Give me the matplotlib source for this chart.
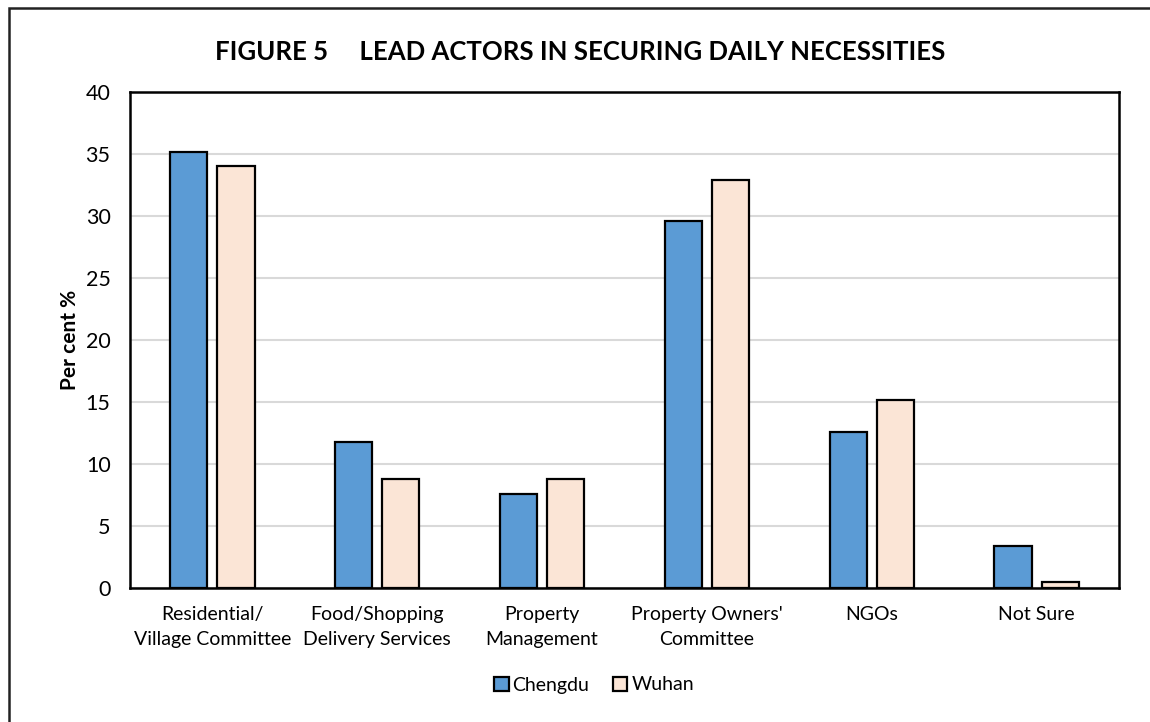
import matplotlib.pyplot as plt
import numpy as np
from matplotlib.patches import Rectangle

# Lead actors in securing daily necessities, per cent of respondents
categories = ['Residential/\nVillage Committee', 'Food/Shopping\nDelivery Services',
              'Property\nManagement', "Property Owners'\nCommittee", 'NGOs', 'Not Sure']
chengdu = [35.2, 11.75, 7.6, 29.6, 12.55, 3.38]
wuhan = [34.0, 8.76, 8.77, 32.87, 15.19, 0.48]

plt.rcParams['font.family'] = ['Lato', 'DejaVu Sans']

fig = plt.figure(figsize=(11.5, 7.22), dpi=100)
ax = fig.add_axes([130 / 1150, 1 - 588 / 722, 989 / 1150, 496 / 722])

x = np.arange(len(categories))
w = 0.225
ax.bar(x - 0.143, chengdu, w, color='#5B9BD5', edgecolor='black', linewidth=1.6,
       label='Chengdu', zorder=3)
ax.bar(x + 0.143, wuhan, w, color='#FBE5D6', edgecolor='black', linewidth=1.6,
       label='Wuhan', zorder=3)

ax.set_xlim(-0.5, len(categories) - 0.5)
ax.set_ylim(0, 40)
ax.set_yticks(range(0, 41, 5))
ax.set_xticks(x)
ax.set_xticklabels(categories, fontsize=14, linespacing=1.55)
ax.tick_params(axis='y', length=0, labelsize=15.5, pad=14)
ax.tick_params(axis='x', length=0, pad=13)
ax.grid(axis='y', color='#D9D9D9', linewidth=1.5, zorder=0)
for s in ax.spines.values():
    s.set_linewidth(1.8)
ax.set_ylabel('Per cent %', fontsize=15, fontweight='bold', labelpad=4)

fig.text(580 / 1150, 1 - 52 / 722, 'FIGURE 5     LEAD ACTORS IN SECURING DAILY NECESSITIES',
         ha='center', va='center', fontsize=18.5, fontweight='bold')

leg = fig.legend(loc='center', bbox_to_anchor=(594 / 1150, 1 - 685 / 722), ncol=2,
                 frameon=False, fontsize=14, handlelength=0.75, handleheight=0.75,
                 handletextpad=0.2, columnspacing=1.2)

# outer frame around the whole figure
fig.patches.append(Rectangle((9 / 1150, -0.05), 1.1, 1 - 8 / 722 + 0.05,
                             transform=fig.transFigure, fill=False,
                             edgecolor='#222222', linewidth=1.8))

fig.savefig('out.png', dpi=100)
